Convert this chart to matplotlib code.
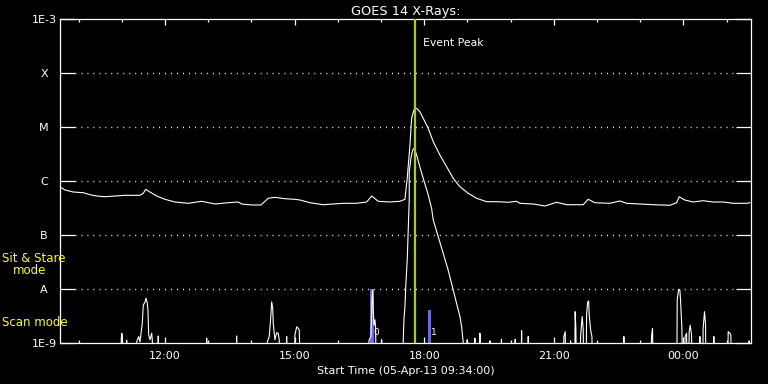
import numpy as np
import matplotlib.pyplot as plt

# minutes after 05-Apr-13 09:34:00, log10 flux (W/m^2)
long_t = [1, 7, 18.5, 32.4, 41.7, 51, 62.5, 76.4, 90.3, 111, 115.7, 119, 125, 134.3,
          145.8, 159.7, 178.2, 196.8, 215.3, 233.8, 247.7, 252.4, 266.3, 279.2, 289.3,
          298.6, 312.5, 326.4, 333.4, 347.3, 365.7, 393.5, 412.1, 426, 433, 442.1, 458.4,
          472.3, 479.2, 482.4, 486.2, 488.5, 491.7, 495.5, 500, 504.6, 511.6, 518.5,
          527.8, 537.1, 546.3, 555.6, 567.1, 578.8, 592.7, 606.6, 622.7, 634.3, 639,
          657.4, 673.7, 689.9, 703.8, 726.9, 733.8, 743.1, 763.9, 777.8, 787.1, 805.6,
          824.1, 847.3, 856.6, 860.2, 868.1, 879.6, 893.5, 907.4, 921.3, 935.2, 953.8, 958.4]
long_lg = [-6.117, -6.167, -6.204, -6.217, -6.254, -6.278, -6.291, -6.278, -6.265, -6.265,
           -6.228, -6.154, -6.204, -6.278, -6.339, -6.389, -6.413, -6.376, -6.426, -6.402,
           -6.389, -6.426, -6.444, -6.444, -6.320, -6.302, -6.328, -6.339, -6.352, -6.402,
           -6.439, -6.413, -6.413, -6.389, -6.278, -6.376, -6.389, -6.376, -6.339, -5.950,
           -5.333, -4.839, -4.685, -4.654, -4.717, -4.839, -5.024, -5.272, -5.519, -5.735,
           -5.950, -6.106, -6.228, -6.320, -6.383, -6.383, -6.394, -6.376, -6.413, -6.426,
           -6.463, -6.394, -6.439, -6.439, -6.339, -6.402, -6.413, -6.370, -6.413, -6.426,
           -6.439, -6.450, -6.402, -6.291, -6.352, -6.389, -6.365, -6.389, -6.389, -6.413,
           -6.413, -6.402]

# short channel: floor of -9.3 means below the 1E-9 axis
short_pts = [
    (0, -9.3),
    (84.5, -9.3), (85.2, -8.91), (85.8, -8.82), (86.6, -8.87), (87.2, -9.3),
    (92.2, -9.3), (92.6, -8.95), (93.0, -9.3),
    (105.8, -9.3), (106.5, -8.98), (109.3, -8.88), (111.1, -8.98), (114.3, -8.64),
    (115.7, -8.30), (118.1, -8.24), (119.5, -8.17), (121.3, -8.27), (122.2, -8.39),
    (123.2, -8.85), (125.0, -8.94), (127.4, -8.82), (128.2, -8.94), (128.8, -9.3),
    (136.0, -9.3), (136.5, -8.87), (137.0, -9.3),
    (203.3, -9.3), (203.8, -8.91), (204.3, -9.3),
    (244.9, -9.3), (245.4, -8.87), (245.9, -9.3),
    (287.4, -9.3), (288.0, -8.98), (290.7, -8.88), (292.7, -8.54), (294.1, -8.24),
    (295.5, -8.36), (296.3, -8.64), (298.6, -8.94), (301.0, -8.81), (303.2, -8.82),
    (304.6, -8.94), (305.2, -9.3),
    (314.4, -9.3), (314.9, -8.88), (315.4, -9.3),
    (325.8, -9.3), (326.4, -8.85), (328.8, -8.70), (331.0, -8.73), (332.4, -8.76), (333.4, -9.3),
    (428.6, -9.3), (429.2, -8.96), (432.0, -8.87), (433.4, -8.20), (434.3, -8.02),
    (435.2, -8.39), (436.2, -8.67), (437.5, -8.57), (438.5, -8.72), (439.0, -9.3),
    (446.3, -9.3), (446.8, -8.94), (447.3, -9.3),
    (476.2, -9.3), (476.8, -8.99), (477.8, -8.57), (479.2, -8.33), (480.6, -7.89),
    (482.4, -7.46), (484.3, -6.72), (485.2, -6.35), (485.2, -5.83), (487.5, -5.58),
    (489.9, -5.43), (492.1, -5.39), (495.5, -5.52), (500.0, -5.74), (504.6, -5.95),
    (511.6, -6.26), (516.3, -6.51), (518.5, -6.72), (525.4, -7.03), (532.4, -7.34),
    (539.3, -7.65), (546.3, -8.02), (551.0, -8.27), (555.6, -8.51), (558.0, -8.70),
    (560.2, -8.99), (560.8, -9.3),
    (565.2, -9.3), (565.7, -8.94), (566.2, -9.3),
    (575.9, -9.3), (576.4, -8.91), (576.9, -9.3),
    (582.9, -9.3), (583.4, -8.82), (583.9, -9.3),
    (596.8, -9.3), (597.3, -8.96), (597.8, -9.3),
    (612.8, -9.3), (613.3, -8.93), (613.8, -9.3),
    (631.9, -9.3), (632.4, -8.93), (632.9, -9.3),
    (640.8, -9.3), (641.3, -8.77), (641.8, -9.3),
    (650.0, -9.3), (650.5, -8.88), (651.0, -9.3),
    (699.5, -9.3), (700.0, -8.88), (701.9, -8.79), (702.4, -9.3),
    (708.9, -9.3), (709.4, -8.96), (709.9, -9.3),
    (715.2, -9.3), (715.7, -8.42), (716.7, -8.73), (717.2, -9.3),
    (722.8, -9.3), (723.3, -8.88), (724.6, -8.64), (725.5, -8.51), (726.9, -8.76), (727.4, -9.3),
    (731.1, -9.3), (731.6, -8.48), (733.0, -8.25), (734.4, -8.22), (735.2, -8.48),
    (737.2, -8.76), (739.0, -8.88), (739.6, -9.3),
    (782.9, -9.3), (783.4, -8.88), (783.9, -9.3),
    (821.3, -9.3), (821.8, -8.87), (823.2, -8.73), (823.7, -9.3),
    (857.0, -9.3), (857.5, -8.20), (859.4, -8.01), (861.2, -8.02), (862.1, -8.20),
    (864.0, -8.73), (864.6, -9.3),
    (868.0, -9.3), (868.5, -8.88), (870.5, -8.82), (871.0, -9.3),
    (873.6, -9.3), (874.1, -8.79), (875.5, -8.67), (877.4, -8.85), (877.9, -9.3),
    (888.5, -9.3), (889.0, -8.88), (889.5, -9.3),
    (893.0, -9.3), (893.5, -8.73), (895.4, -8.42), (896.8, -8.64), (897.3, -9.3),
    (907.9, -9.3), (908.4, -8.88), (908.9, -9.3),
    (927.8, -9.3), (928.3, -8.79), (930.6, -8.82), (932.0, -8.85), (932.5, -9.3),
    (956.9, -9.3), (957.4, -8.96), (957.9, -9.3),
    (960, -9.3),
]

# scan mode markers (blue bars)
bar_t = [433.4, 513.0]
bar_lg = [-8.0, -8.39]
bar_lbl = ['0', '1']

peak_t = 493.2
class_lbl = ['1E-9', 'A', 'B', 'C', 'M', 'X', '1E-3']
hour_lbl = ['12:00', '15:00', '18:00', '21:00', '00:00']

start_min = 9 * 60 + 34
span = 960

plt.rcParams['font.family'] = 'DejaVu Sans'
fig = plt.figure(figsize=(7.68, 3.84), dpi=100, facecolor='black')
ax = fig.add_axes([60 / 768, 1 - 343 / 384, 691 / 768, 324 / 384], facecolor='black')
ax.set_yscale('log')
ax.set_xlim(0, span)
ax.set_ylim(1e-9, 1e-3)

# dotted class lines
for k in range(-8, -3):
    ax.axhline(10.0 ** k, xmin=15 / 691, xmax=676 / 691, color='white',
               lw=1.0, ls=(0, (0.7, 3.6)))

ax.bar(bar_t, [10.0 ** v - 1e-9 for v in bar_lg], bottom=1e-9, width=4.5,
       color='#6464ff', zorder=2)
for t, v, s in zip(bar_t, bar_lg, bar_lbl):
    ax.text(t + 6, 10 ** -8.8, s, color='white', fontsize=6.5, ha='center',
            va='center', zorder=4)

st = [p[0] for p in short_pts]
sl = [10.0 ** p[1] for p in short_pts]
ax.plot(st, sl, color='white', lw=0.8, zorder=3)
ax.plot(long_t, [10.0 ** v for v in long_lg], color='white', lw=0.8, zorder=3)

ax.axvline(peak_t, color='#a0d214', lw=1.6, zorder=5)
ax.text(peak_t + 11, 10 ** -3.45, 'Event Peak', color='white', fontsize=7.8,
        ha='left', va='center')

# axes styling
for sp in ax.spines.values():
    sp.set_color('white')
    sp.set_linewidth(0.9)

first = 60 - start_min % 60
major = [first + 60 * i for i in range(16) if (start_min + first + 60 * i) % 180 == 0]
minor = [first + 60 * i for i in range(16)]
ax.set_xticks(major)
ax.set_xticklabels(hour_lbl)
ax.set_xticks(minor, minor=True)
ax.tick_params(axis='x', which='major', direction='in', length=4.5, top=True,
               colors='white', labelsize=8, pad=6, width=0.9)
ax.tick_params(axis='x', which='minor', direction='in', length=2.5, top=True,
               color='white', width=0.9)

ax.set_yticks([10.0 ** k for k in range(-9, -2)])
ax.set_yticklabels(class_lbl)
ax.yaxis.set_minor_locator(plt.NullLocator())
ax.tick_params(axis='y', which='major', direction='in', length=10.8, right=True,
               colors='white', labelsize=8, pad=11.5, width=0.9)
for lb in ax.get_yticklabels():
    lb.set_ha('center')

ax.set_title('GOES 14 X-Rays:', color='white', fontsize=9.3, pad=3)
ax.set_xlabel('Start Time (05-Apr-13 09:34:00)', color='white', fontsize=8, labelpad=3)

fig.text(2 / 768, 1 - 259 / 384, 'Sit & Stare', color='yellow', fontsize=8.5, va='center')
fig.text(12.7 / 768, 1 - 271 / 384, 'mode', color='yellow', fontsize=8.5, va='center')
fig.text(2 / 768, 1 - 323 / 384, 'Scan mode', color='yellow', fontsize=8.5, va='center')

fig.savefig('out.png', dpi=100, facecolor='black')
